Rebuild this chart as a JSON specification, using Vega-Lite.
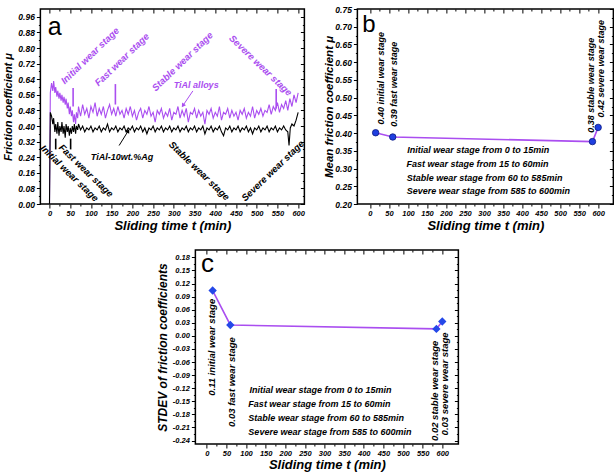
{
"$schema": "https://vega.github.io/schema/vega-lite/v6.json",
"padding": {"left": 2, "top": 4, "right": 2, "bottom": 0},
"background": "white",
"config": {
  "font": "Liberation Sans",
  "view": {"stroke": "black", "strokeWidth": 1.5},
  "axis": {"labelFont": "Liberation Sans", "labelFontStyle": "italic", "labelFontWeight": "bold", "labelColor": "black",
           "titleFont": "Liberation Sans", "titleFontStyle": "italic", "titleFontWeight": "bold", "titleColor": "black",
           "domain": false, "tickColor": "black", "tickSize": 3, "labelPadding": 2, "grid": false, "labelOverlap": false, "labelFlush": false},
  "text": {"font": "Liberation Sans", "fontStyle": "italic", "fontWeight": "bold"}
},
"datasets": {
  "aLines": [
    {"t":0,"p":0,"b":0},{"t":2,"p":0.57,"b":0.47},{"t":5,"p":0.62,"b":0.45},{"t":8,"p":0.58,"b":0.41},{"t":10,"p":0.63,"b":0.44},
    {"t":13,"p":0.57,"b":0.37},{"t":15,"p":0.60,"b":0.41},{"t":18,"p":0.55,"b":0.36},{"t":20,"p":0.58,"b":0.42},{"t":23,"p":0.54,"b":0.35},
    {"t":25,"p":0.57,"b":0.40},{"t":28,"p":0.53,"b":0.37},{"t":30,"p":0.56,"b":0.42},{"t":33,"p":0.52,"b":0.36},{"t":35,"p":0.55,"b":0.40},
    {"t":38,"p":0.51,"b":0.34},{"t":40,"p":0.54,"b":0.41},{"t":43,"p":0.49,"b":0.37},{"t":45,"p":0.52,"b":0.40},{"t":48,"p":0.46,"b":0.35},
    {"t":50,"p":0.50,"b":0.39},{"t":53,"p":0.45,"b":0.36},{"t":55,"p":0.48,"b":0.40},{"t":58,"p":0.42,"b":0.37},{"t":60,"p":0.46,"b":0.41},
    {"t":63,"p":0.41,"b":0.36},{"t":65,"p":0.47,"b":0.40},{"t":68,"p":0.44,"b":0.38},{"t":70,"p":0.50,"b":0.41},
    {"t":75,"p":0.45,"b":0.38},{"t":80,"p":0.51,"b":0.40},{"t":85,"p":0.46,"b":0.37},{"t":90,"p":0.49,"b":0.39},{"t":95,"p":0.44,"b":0.38},
    {"t":100,"p":0.50,"b":0.40},{"t":105,"p":0.47,"b":0.37},{"t":110,"p":0.52,"b":0.39},{"t":115,"p":0.45,"b":0.38},{"t":120,"p":0.49,"b":0.40},
    {"t":125,"p":0.46,"b":0.37},{"t":130,"p":0.50,"b":0.39},{"t":135,"p":0.44,"b":0.38},{"t":140,"p":0.48,"b":0.41},{"t":145,"p":0.51,"b":0.37},
    {"t":150,"p":0.46,"b":0.39},{"t":155,"p":0.49,"b":0.38},{"t":160,"p":0.45,"b":0.40},{"t":165,"p":0.50,"b":0.37},{"t":170,"p":0.46,"b":0.39},
    {"t":175,"p":0.48,"b":0.38},{"t":180,"p":0.44,"b":0.40},{"t":185,"p":0.49,"b":0.37},{"t":190,"p":0.46,"b":0.39},{"t":195,"p":0.50,"b":0.38},
    {"t":200,"p":0.45,"b":0.40},{"t":205,"p":0.48,"b":0.37},{"t":210,"p":0.43,"b":0.39},{"t":215,"p":0.47,"b":0.38},{"t":220,"p":0.49,"b":0.40},
    {"t":225,"p":0.44,"b":0.37},{"t":230,"p":0.48,"b":0.39},{"t":235,"p":0.46,"b":0.36},{"t":240,"p":0.50,"b":0.39},{"t":245,"p":0.45,"b":0.38},
    {"t":250,"p":0.47,"b":0.40},{"t":255,"p":0.42,"b":0.37},{"t":260,"p":0.48,"b":0.39},{"t":265,"p":0.46,"b":0.38},{"t":270,"p":0.49,"b":0.40},
    {"t":275,"p":0.44,"b":0.37},{"t":280,"p":0.47,"b":0.39},{"t":285,"p":0.45,"b":0.38},{"t":290,"p":0.49,"b":0.40},{"t":295,"p":0.43,"b":0.37},
    {"t":300,"p":0.47,"b":0.39},{"t":305,"p":0.46,"b":0.38},{"t":310,"p":0.50,"b":0.40},{"t":315,"p":0.44,"b":0.37},{"t":320,"p":0.48,"b":0.39},
    {"t":325,"p":0.45,"b":0.38},{"t":330,"p":0.49,"b":0.40},{"t":335,"p":0.42,"b":0.37},{"t":340,"p":0.47,"b":0.39},{"t":345,"p":0.46,"b":0.38},
    {"t":350,"p":0.49,"b":0.40},{"t":355,"p":0.44,"b":0.37},{"t":360,"p":0.48,"b":0.39},{"t":365,"p":0.45,"b":0.38},{"t":370,"p":0.47,"b":0.40},
    {"t":375,"p":0.41,"b":0.36},{"t":380,"p":0.48,"b":0.39},{"t":385,"p":0.46,"b":0.38},{"t":390,"p":0.49,"b":0.40},{"t":395,"p":0.44,"b":0.37},
    {"t":400,"p":0.47,"b":0.39},{"t":405,"p":0.45,"b":0.38},{"t":410,"p":0.50,"b":0.40},{"t":415,"p":0.43,"b":0.37},{"t":420,"p":0.47,"b":0.35},
    {"t":425,"p":0.46,"b":0.39},{"t":430,"p":0.49,"b":0.38},{"t":435,"p":0.44,"b":0.40},{"t":440,"p":0.48,"b":0.37},{"t":445,"p":0.45,"b":0.39},
    {"t":450,"p":0.47,"b":0.38},{"t":455,"p":0.43,"b":0.40},{"t":460,"p":0.48,"b":0.37},{"t":465,"p":0.46,"b":0.39},{"t":470,"p":0.49,"b":0.38},
    {"t":475,"p":0.44,"b":0.40},{"t":480,"p":0.47,"b":0.37},{"t":485,"p":0.45,"b":0.39},{"t":490,"p":0.50,"b":0.36},{"t":495,"p":0.44,"b":0.39},
    {"t":500,"p":0.48,"b":0.38},{"t":505,"p":0.46,"b":0.40},{"t":510,"p":0.49,"b":0.37},{"t":515,"p":0.45,"b":0.39},{"t":520,"p":0.48,"b":0.38},
    {"t":525,"p":0.47,"b":0.40},{"t":530,"p":0.51,"b":0.37},{"t":535,"p":0.46,"b":0.39},{"t":540,"p":0.50,"b":0.38},{"t":545,"p":0.48,"b":0.40},
    {"t":550,"p":0.52,"b":0.37},{"t":555,"p":0.47,"b":0.39},{"t":560,"p":0.51,"b":0.38},{"t":565,"p":0.49,"b":0.40},{"t":570,"p":0.53,"b":0.38},
    {"t":575,"p":0.48,"b":0.37},{"t":578,"b":0.30},{"t":580,"p":0.54},{"t":581,"b":0.39},{"t":585,"p":0.50,"b":0.41},{"t":590,"p":0.56,"b":0.40},
    {"t":595,"p":0.52,"b":0.43},{"t":600,"p":0.57,"b":0.47}
  ],
  "aSpikes": [
    {"s":"b","t":15,"v1":0.28,"v2":0.335},{"s":"b","t":51,"v1":0.28,"v2":0.335},
    {"s":"p","t":57,"v1":0.50,"v2":0.595},{"s":"p","t":159,"v1":0.51,"v2":0.615},{"s":"p","t":547,"v1":0.49,"v2":0.59}
  ],
  "aArrows": [
    {"s":"p","t1":346,"v1":0.58,"t2":322,"v2":0.505},
    {"s":"b","t1":168,"v1":0.30,"t2":190,"v2":0.375}
  ],
  "aTextUp": [
    {"s":"p","t":98,"v":0.76,"label":"Initial wear stage"},
    {"s":"p","t":175,"v":0.74,"label":"Fast wear stage"},
    {"s":"p","t":321,"v":0.73,"label":"Stable wear stage"},
    {"s":"b","t":539,"v":0.17,"label":"Severe wear stage"}
  ],
  "aTextDown": [
    {"s":"p","t":509,"v":0.71,"label":"Severe wear stage"},
    {"s":"b","t":48,"v":0.157,"label":"Initial wear stage"},
    {"s":"b","t":88,"v":0.17,"label":"Fast wear stage"},
    {"s":"b","t":361,"v":0.17,"label":"Stable wear stage"}
  ],
  "aTextFlat": [
    {"s":"p","t":354,"v":0.61,"label":"TiAl alloys"},
    {"s":"b","t":175,"v":0.24,"label":"TiAl-10wt.%Ag"}
  ],
  "letters": [
    {"panel":"a","t":-4,"v":0.868,"label":"a"},
    {"panel":"b","t":-20,"v":0.685,"label":"b"},
    {"panel":"c","t":-14.5,"v":0.146,"label":"c"}
  ],
  "bPts": [
    {"t":15,"v":0.401,"lo":0.393,"hi":0.409},{"t":60,"v":0.389,"lo":0.382,"hi":0.396},
    {"t":585,"v":0.376,"lo":0.369,"hi":0.383},{"t":600,"v":0.416,"lo":0.409,"hi":0.423}
  ],
  "bLabels": [
    {"t":30,"v":0.424,"label":"0.40 initial wear stage"},
    {"t":64.5,"v":0.418,"label":"0.39 fast wear stage"},
    {"t":580,"v":0.401,"label":"0.38 stable wear stage"},
    {"t":608,"v":0.444,"label":"0.42 severe wear stage"}
  ],
  "bNotes": [
    {"t":98,"v":0.353,"label":"Initial wear stage from 0 to 15min"},
    {"t":96,"v":0.313,"label":"Fast wear stage from 15 to 60min"},
    {"t":97,"v":0.274,"label":"Stable wear stage from 60 to 585min"},
    {"t":97,"v":0.237,"label":"Severe wear stage from 585 to 600min"}
  ],
  "cPts": [
    {"t":15,"v":0.104},{"t":60,"v":0.025},{"t":585,"v":0.016},{"t":600,"v":0.033}
  ],
  "cLabels": [
    {"t":12.7,"v":0.085,"label":"0.11 initial wear stage"},
    {"t":63.6,"v":-0.003,"label":"0.03 fast wear stage"},
    {"t":581,"v":-0.011,"label":"0.02 stable wear stage"},
    {"t":606,"v":0.008,"label":"0.03 severe wear stage"}
  ],
  "cNotes": [
    {"t":109,"v":-0.125,"label":"Initial wear stage from 0 to 15min"},
    {"t":106,"v":-0.157,"label":"Fast wear stage from 15 to 60min"},
    {"t":106,"v":-0.189,"label":"Stable wear stage from 60 to 585min"},
    {"t":106,"v":-0.221,"label":"Severe wear stage from 585 to 600min"}
  ]
},
"spacing": 14,
"center": true,
"vconcat": [
  {
    "spacing": 15,
    "hconcat": [
      {
        "width": 264, "height": 195,
        "resolve": {"axis": {"x": "independent", "y": "independent"}},
        "layer": [
          {
            "encoding": {
              "x": {"type": "quantitative", "scale": {"domain": [-22, 615], "nice": false, "zero": false},
                    "axis": {"values": [0,25,50,75,100,125,150,175,200,225,250,275,300,325,350,375,400,425,450,475,500,525,550,575,600],
                             "labelExpr": "datum.value % 50 == 0 ? datum.label : ''",
                             "tickSize": {"condition": {"test": "datum.value % 50 == 0", "value": 4}, "value": 2},
                             "title": "Sliding time t (min)", "titleFontSize": 13, "labelFontSize": 7.5, "labelPadding": 1, "titlePadding": 3}},
              "y": {"type": "quantitative", "scale": {"domain": [0, 1], "nice": false},
                    "axis": {"values": [0,0.04,0.08,0.12,0.16,0.2,0.24,0.28,0.32,0.36,0.4,0.44,0.48,0.52,0.56,0.6,0.64,0.68,0.72,0.76,0.8,0.84,0.88,0.92,0.96],
                             "format": ".2f",
                             "labelExpr": "round(datum.value*100) % 8 == 0 ? datum.label : ''",
                             "tickSize": {"condition": {"test": "round(datum.value*100) % 8 == 0", "value": 4}, "value": 2},
                             "title": "Friction coefficient μ", "titleFontSize": 11, "labelFontSize": 8.5, "titlePadding": 4}}
            },
            "layer": [
              {"data": {"name": "aLines"},
               "transform": [{"fold": ["p", "b"], "as": ["s", "v"]}, {"filter": "isValid(datum.v)"}],
               "mark": {"type": "line", "strokeWidth": 1.1},
               "encoding": {"x": {"field": "t"}, "y": {"field": "v"},
                            "color": {"field": "s", "type": "nominal", "scale": {"domain": ["p", "b"], "range": ["#aa4ef0", "#000000"]}, "legend": null}}},
              {"data": {"name": "aSpikes"}, "mark": {"type": "rule", "strokeWidth": 1.6},
               "encoding": {"x": {"field": "t"}, "y": {"field": "v1"}, "y2": {"field": "v2"}, "color": {"field": "s", "type": "nominal", "legend": null}}},
              {"data": {"name": "aArrows"}, "mark": {"type": "rule", "strokeWidth": 1},
               "encoding": {"x": {"field": "t1"}, "x2": {"field": "t2"}, "y": {"field": "v1"}, "y2": {"field": "v2"}, "color": {"field": "s", "type": "nominal", "legend": null}}},
              {"data": {"name": "aArrows"}, "transform": [{"filter": "datum.s == 'p'"}],
               "mark": {"type": "point", "shape": "triangle-up", "filled": true, "size": 22, "angle": 214, "opacity": 1},
               "encoding": {"x": {"field": "t2"}, "y": {"field": "v2"}, "color": {"field": "s", "type": "nominal", "legend": null}}},
              {"data": {"name": "aArrows"}, "transform": [{"filter": "datum.s == 'b'"}],
               "mark": {"type": "point", "shape": "triangle-up", "filled": true, "size": 22, "angle": 31, "opacity": 1},
               "encoding": {"x": {"field": "t2"}, "y": {"field": "v2"}, "color": {"field": "s", "type": "nominal", "legend": null}}},
              {"data": {"name": "aTextUp"}, "mark": {"type": "text", "angle": 316, "fontSize": 9.5},
               "encoding": {"x": {"field": "t"}, "y": {"field": "v"}, "text": {"field": "label"}, "color": {"field": "s", "type": "nominal", "legend": null}}},
              {"data": {"name": "aTextDown"}, "mark": {"type": "text", "angle": 44, "fontSize": 9.5},
               "encoding": {"x": {"field": "t"}, "y": {"field": "v"}, "text": {"field": "label"}, "color": {"field": "s", "type": "nominal", "legend": null}}},
              {"data": {"name": "aTextFlat"}, "mark": {"type": "text", "fontSize": 9},
               "encoding": {"x": {"field": "t"}, "y": {"field": "v"}, "text": {"field": "label"}, "color": {"field": "s", "type": "nominal", "legend": null}}},
              {"data": {"name": "letters"}, "transform": [{"filter": "datum.panel == 'a'"}],
               "mark": {"type": "text", "fontSize": 25, "fontStyle": "normal", "fontWeight": "normal", "align": "left", "baseline": "alphabetic", "color": "black"},
               "encoding": {"x": {"field": "t"}, "y": {"field": "v"}, "text": {"field": "label"}}}
            ]
          },
          {"data": {"name": "aSpikes"}, "mark": {"type": "point", "opacity": 0},
           "encoding": {
             "x": {"field": "t", "type": "quantitative", "scale": {"domain": [-22, 615], "nice": false, "zero": false},
                   "axis": {"orient": "top", "values": [0,25,50,75,100,125,150,175,200,225,250,275,300,325,350,375,400,425,450,475,500,525,550,575,600], "labels": false, "title": null,
                            "tickSize": {"condition": {"test": "datum.value % 50 == 0", "value": -4}, "value": -2}}},
             "y": {"field": "v1", "type": "quantitative", "scale": {"domain": [0, 1], "nice": false},
                   "axis": {"orient": "right", "values": [0,0.04,0.08,0.12,0.16,0.2,0.24,0.28,0.32,0.36,0.4,0.44,0.48,0.52,0.56,0.6,0.64,0.68,0.72,0.76,0.8,0.84,0.88,0.92,0.96], "labels": false, "title": null,
                            "tickSize": {"condition": {"test": "round(datum.value*100) % 8 == 0", "value": -4}, "value": -2}}}}}
        ]
      },
      {
        "width": 256, "height": 195,
        "resolve": {"axis": {"x": "independent", "y": "independent"}},
        "layer": [
          {
            "encoding": {
              "x": {"type": "quantitative", "scale": {"domain": [-33, 640], "nice": false, "zero": false},
                    "axis": {"values": [0,25,50,75,100,125,150,175,200,225,250,275,300,325,350,375,400,425,450,475,500,525,550,575,600],
                             "labelExpr": "datum.value % 50 == 0 ? datum.label : ''",
                             "tickSize": {"condition": {"test": "datum.value % 50 == 0", "value": 4}, "value": 2},
                             "title": "Sliding time t (min)", "titleFontSize": 13, "labelFontSize": 7.5, "labelPadding": 1, "titlePadding": 3}},
              "y": {"type": "quantitative", "scale": {"domain": [0.2, 0.75], "nice": false, "zero": false},
                    "axis": {"values": [0.2,0.225,0.25,0.275,0.3,0.325,0.35,0.375,0.4,0.425,0.45,0.475,0.5,0.525,0.55,0.575,0.6,0.625,0.65,0.675,0.7,0.725,0.75],
                             "format": ".2f",
                             "labelExpr": "round(datum.value*1000) % 50 == 0 ? datum.label : ''",
                             "tickSize": {"condition": {"test": "round(datum.value*1000) % 50 == 0", "value": 4}, "value": 2},
                             "title": "Mean friction coefficient μ", "titleFontSize": 11.5, "labelFontSize": 8.5, "titlePadding": 0}}
            },
            "layer": [
              {"data": {"name": "bPts"}, "mark": {"type": "line", "color": "#aa4ef0", "strokeWidth": 1.6},
               "encoding": {"x": {"field": "t"}, "y": {"field": "v"}}},
              {"data": {"name": "bPts"}, "mark": {"type": "rule", "color": "#0a1a80", "strokeWidth": 1.2},
               "encoding": {"x": {"field": "t"}, "y": {"field": "lo"}, "y2": {"field": "hi"}}},
              {"data": {"name": "bPts"}, "mark": {"type": "point", "shape": "circle", "filled": true, "size": 42, "color": "#1f3fe0", "stroke": "#0a1a80", "strokeWidth": 0.8, "opacity": 1},
               "encoding": {"x": {"field": "t"}, "y": {"field": "v"}}},
              {"data": {"name": "bLabels"}, "mark": {"type": "text", "angle": 270, "align": "left", "baseline": "middle", "fontSize": 9, "color": "black"},
               "encoding": {"x": {"field": "t"}, "y": {"field": "v"}, "text": {"field": "label"}}},
              {"data": {"name": "bNotes"}, "mark": {"type": "text", "align": "left", "baseline": "middle", "fontSize": 9, "color": "black"},
               "encoding": {"x": {"field": "t"}, "y": {"field": "v"}, "text": {"field": "label"}}},
              {"data": {"name": "letters"}, "transform": [{"filter": "datum.panel == 'b'"}],
               "mark": {"type": "text", "fontSize": 24, "fontStyle": "normal", "fontWeight": "normal", "align": "left", "baseline": "alphabetic", "color": "black"},
               "encoding": {"x": {"field": "t"}, "y": {"field": "v"}, "text": {"field": "label"}}}
            ]
          },
          {"data": {"name": "bPts"}, "mark": {"type": "point", "opacity": 0},
           "encoding": {
             "x": {"field": "t", "type": "quantitative", "scale": {"domain": [-33, 640], "nice": false, "zero": false},
                   "axis": {"orient": "top", "values": [0,25,50,75,100,125,150,175,200,225,250,275,300,325,350,375,400,425,450,475,500,525,550,575,600], "labels": false, "title": null,
                            "tickSize": {"condition": {"test": "datum.value % 50 == 0", "value": -4}, "value": -2}}},
             "y": {"field": "v", "type": "quantitative", "scale": {"domain": [0.2, 0.75], "nice": false, "zero": false},
                   "axis": {"orient": "right", "values": [0.2,0.225,0.25,0.275,0.3,0.325,0.35,0.375,0.4,0.425,0.45,0.475,0.5,0.525,0.55,0.575,0.6,0.625,0.65,0.675,0.7,0.725,0.75], "labels": false, "title": null,
                            "tickSize": {"condition": {"test": "round(datum.value*1000) % 50 == 0", "value": -4}, "value": -2}}}}}
        ]
      }
    ]
  },
  {
    "width": 263, "height": 194,
    "resolve": {"axis": {"x": "independent", "y": "independent"}},
    "layer": [
      {
        "encoding": {
          "x": {"type": "quantitative", "scale": {"domain": [-29, 641], "nice": false, "zero": false},
                "axis": {"values": [0,25,50,75,100,125,150,175,200,225,250,275,300,325,350,375,400,425,450,475,500,525,550,575,600],
                         "labelExpr": "datum.value % 50 == 0 ? datum.label : ''",
                         "tickSize": {"condition": {"test": "datum.value % 50 == 0", "value": 4}, "value": 2},
                         "title": "Sliding time t (min)", "titleFontSize": 13, "labelFontSize": 7.5, "labelPadding": 1, "titlePadding": 2}},
          "y": {"type": "quantitative", "scale": {"domain": [-0.248, 0.197], "nice": false, "zero": false},
                "axis": {"values": [-0.24,-0.225,-0.21,-0.195,-0.18,-0.165,-0.15,-0.135,-0.12,-0.105,-0.09,-0.075,-0.06,-0.045,-0.03,-0.015,0,0.015,0.03,0.045,0.06,0.075,0.09,0.105,0.12,0.135,0.15,0.165,0.18],
                         "format": ".2f",
                         "labelExpr": "round(datum.value*1000) % 30 == 0 ? replace(datum.label, '\u2212', '-') : ''",
                         "tickSize": {"condition": {"test": "round(datum.value*1000) % 30 == 0", "value": 4}, "value": 2},
                         "title": "STDEV of friction coefficients", "titleFontSize": 12, "labelFontSize": 7.5, "titlePadding": 3}}
        },
        "layer": [
          {"data": {"name": "cPts"}, "mark": {"type": "line", "color": "#aa4ef0", "strokeWidth": 1.6},
           "encoding": {"x": {"field": "t"}, "y": {"field": "v"}}},
          {"data": {"name": "cPts"}, "mark": {"type": "point", "shape": "diamond", "filled": true, "size": 70, "color": "#2448e8", "opacity": 1},
           "encoding": {"x": {"field": "t"}, "y": {"field": "v"}}},
          {"data": {"name": "cLabels"}, "mark": {"type": "text", "angle": 270, "align": "right", "baseline": "middle", "fontSize": 9.5, "color": "black"},
           "encoding": {"x": {"field": "t"}, "y": {"field": "v"}, "text": {"field": "label"}}},
          {"data": {"name": "cNotes"}, "mark": {"type": "text", "align": "left", "baseline": "middle", "fontSize": 9, "color": "black"},
           "encoding": {"x": {"field": "t"}, "y": {"field": "v"}, "text": {"field": "label"}}},
          {"data": {"name": "letters"}, "transform": [{"filter": "datum.panel == 'c'"}],
           "mark": {"type": "text", "fontSize": 26, "fontStyle": "normal", "fontWeight": "normal", "align": "left", "baseline": "alphabetic", "color": "black"},
           "encoding": {"x": {"field": "t"}, "y": {"field": "v"}, "text": {"field": "label"}}}
        ]
      },
      {"data": {"name": "cPts"}, "mark": {"type": "point", "opacity": 0},
       "encoding": {
         "x": {"field": "t", "type": "quantitative", "scale": {"domain": [-29, 641], "nice": false, "zero": false},
               "axis": {"orient": "top", "values": [0,25,50,75,100,125,150,175,200,225,250,275,300,325,350,375,400,425,450,475,500,525,550,575,600], "labels": false, "title": null,
                        "tickSize": {"condition": {"test": "datum.value % 50 == 0", "value": -4}, "value": -2}}},
         "y": {"field": "v", "type": "quantitative", "scale": {"domain": [-0.248, 0.197], "nice": false, "zero": false},
               "axis": {"orient": "right", "values": [-0.24,-0.225,-0.21,-0.195,-0.18,-0.165,-0.15,-0.135,-0.12,-0.105,-0.09,-0.075,-0.06,-0.045,-0.03,-0.015,0,0.015,0.03,0.045,0.06,0.075,0.09,0.105,0.12,0.135,0.15,0.165,0.18], "labels": false, "title": null,
                        "tickSize": {"condition": {"test": "round(datum.value*1000) % 30 == 0", "value": -4}, "value": -2}}}}}
    ]
  }
]
}
